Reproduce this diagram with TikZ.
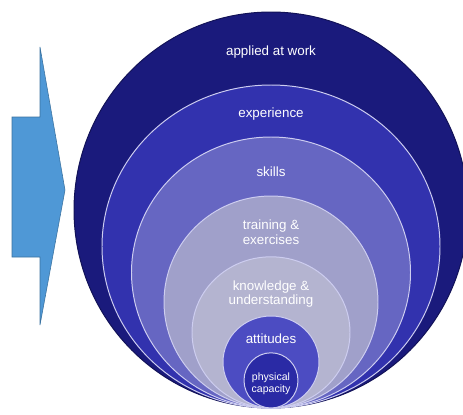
\documentclass[tikz,border=0pt]{standalone}
\usepackage{fontspec}
\setsansfont{Liberation Sans}
\usetikzlibrary{positioning, shapes.geometric}
\definecolor{arrowblue}{RGB}{79,152,214}
\definecolor{workblue}{RGB}{26,26,124}
\definecolor{expblue}{RGB}{50,50,174}
\definecolor{skillblue}{RGB}{102,102,194}
\definecolor{trainlav}{RGB}{160,160,202}
\definecolor{knowlav}{RGB}{180,180,208}
\definecolor{attblue}{RGB}{76,76,194}
\definecolor{physblue}{RGB}{42,42,165}
\definecolor{ringedge}{RGB}{205,205,240}

\tikzset{
  ring/.style={ellipse, inner sep=0pt, outer sep=0pt, anchor=south, draw=ringedge, line width=0.7pt},
  ringlabel/.style={text=white, font=\sffamily\fontsize{9.5}{10.5}\selectfont, align=center, inner sep=0pt},
}

\begin{document}
\begin{tikzpicture}
  \useasboundingbox (0,0) rectangle (11.575,10.35);

  % ===== big arrow on the left =====
  \fill[arrowblue, draw=arrowblue!75!black, line width=0.4pt]
    (0.30,7.425) -- (1.00,7.425) -- (1.00,9.175) -- (1.625,5.60)
    -- (1.00,2.225) -- (1.00,3.925) -- (0.30,3.925) -- cycle;

  % ===== nested rings, all touching at the bottom =====
  \coordinate (base) at (6.775,0.15);

  \node[ring, fill=workblue, draw=workblue!70!black, minimum width=9.85cm, minimum height=9.9cm] (work) at (base) {};
  \node[ring, fill=expblue, minimum width=8.45cm, minimum height=8.075cm] (exp) at (base) {};
  \node[ring, fill=skillblue, minimum width=6.975cm, minimum height=6.775cm] (skill) at (base) {};
  \node[ring, fill=trainlav, minimum width=5.35cm, minimum height=5.3cm] (train) at (base) {};
  \node[ring, fill=knowlav, minimum width=3.95cm, minimum height=3.78cm] (know) at (base) {};
  \node[ring, fill=attblue, minimum width=2.4cm, minimum height=2.3cm] (att) at (base) {};
  \node[ring, fill=physblue, minimum width=1.35cm, minimum height=1.38cm] (phys) at (base) {};

  % labels
  \node[ringlabel] (worktxt) at ([yshift=-1.0cm]work.north) {applied at work};
  \node[ringlabel] (exptxt) at ([yshift=-0.72cm]exp.north) {experience};
  \node[ringlabel] (skilltxt) at ([yshift=-0.88cm]skill.north) {skills};
  \node[ringlabel] (traintxt) at ([yshift=-0.9cm]train.north) {training \&\\exercises};
  \node[ringlabel] (knowtxt) at ([yshift=-0.93cm]know.north) {knowledge \&\\understanding};
  \node[ringlabel] (atttxt) at ([yshift=-0.58cm]att.north) {attitudes};
  \node[ringlabel, font=\sffamily\fontsize{7.5}{8.2}\selectfont] (phystxt) at ([yshift=-0.78cm]phys.north) {physical\\capacity};
\end{tikzpicture}
\end{document}
